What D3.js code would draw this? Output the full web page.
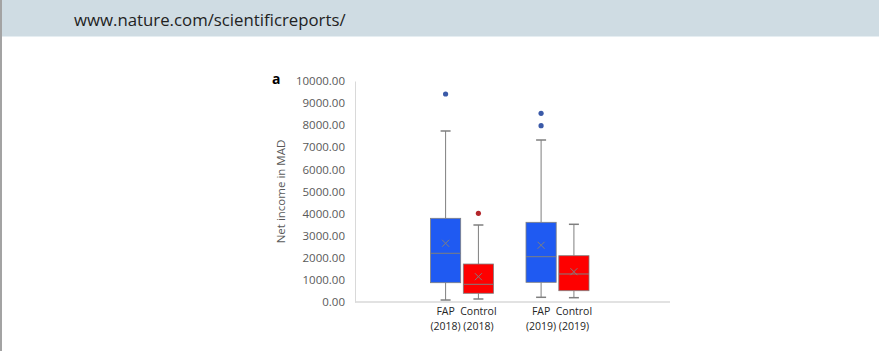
<!DOCTYPE html>
<html>
<head>
<meta charset="utf-8">
<script src="https://cdn.jsdelivr.net/npm/d3@7"></script>
<style>
  html, body { margin: 0; padding: 0; background: #fff; }
  svg { display: block; }
</style>
</head>
<body>
<div id="chart"></div>
<script>
// ---- data ----
const years = ["2018", "2019"];
const groups = ["FAP", "Control"];
const seriesYear = ["2018", "2018", "2019", "2019"];
const seriesGroup = ["FAP", "Control", "FAP", "Control"];
const whiskerMin = [90, 136, 213, 195];
const q1 = [873, 394, 891, 511];
const median = [2204, 801, 2050, 1267];
const q3 = [3787, 1719, 3606, 2095];
const whiskerMax = [7738, 3484, 7330, 3516];
const mean = [2656, 1145, 2566, 1371];
const outliers = [[9412], [4014], [8538, 7977], []];
const yTicks = [0, 1000, 2000, 3000, 4000, 5000, 6000, 7000, 8000, 9000, 10000];

const boxes = seriesYear.map((yr, i) => ({
  year: yr, group: seriesGroup[i],
  min: whiskerMin[i], q1: q1[i], med: median[i], q3: q3[i],
  max: whiskerMax[i], mean: mean[i], out: outliers[i]
}));

const fill = { FAP: "#1f5af2", Control: "#fe0000" };
const outFill = { FAP: "#3b5aa8", Control: "#b3262b" };

const W = 879, H = 351;
const svg = d3.select("#chart").append("svg")
  .attr("width", W).attr("height", H);

// header band
svg.append("rect").attr("x", 0).attr("y", 0).attr("width", W).attr("height", 36)
  .attr("fill", "#cfdce3");
svg.append("line").attr("x1", 0).attr("x2", W).attr("y1", 36.5).attr("y2", 36.5)
  .attr("stroke", "#e6eef2");
svg.append("text").attr("x", 74).attr("y", 26)
  .style("font-family", "'Open Sans', sans-serif").style("font-size", "16.8px")
  .attr("fill", "#222").text("www.nature.com/scientificreports/");
svg.append("rect").attr("x", 0).attr("y", 0).attr("width", 2).attr("height", H)
  .attr("fill", "#a3a3a3");

// plot area
const plot = { left: 355, right: 670, top: 81, bottom: 302 };

const y = d3.scaleLinear().domain([0, 10000]).range([plot.bottom, plot.top]);
const xYear = d3.scaleBand().domain(years).range([414.5, 605.5]);
const xGroup = d3.scaleBand().domain(groups).range([16, 79]).paddingInner(0.08);
const bx = d => xYear(d.year) + xGroup(d.group);
const bw = xGroup.bandwidth();
const cx = d => bx(d) + bw / 2;

// y axis
const yAxis = svg.append("g").attr("transform", `translate(${plot.left},0)`)
  .call(d3.axisLeft(y).tickValues(yTicks).tickFormat(d3.format(".2f")).tickSize(0).tickPadding(10));
yAxis.select(".domain").attr("stroke", "#d9d9d9");
yAxis.selectAll("text").attr("fill", "#595959")
  .style("font-family", "'Open Sans', sans-serif").style("font-size", "11.5px");

// x axis line
svg.append("line").attr("x1", plot.left).attr("x2", plot.right)
  .attr("y1", y(0)).attr("y2", y(0)).attr("stroke", "#d9d9d9").attr("stroke-width", 1.5);

// y label
svg.append("text")
  .attr("transform", `translate(285,${(plot.top + plot.bottom) / 2}) rotate(-90)`)
  .attr("text-anchor", "middle").attr("fill", "#595959")
  .style("font-family", "'Open Sans', sans-serif").style("font-size", "11.5px")
  .text("Net income in MAD");

// panel letter
svg.append("text").attr("x", 272).attr("y", 84)
  .style("font-family", "'Open Sans', sans-serif").style("font-size", "14px")
  .style("font-weight", "bold").attr("fill", "#000").text("a");

const stroke = "#7f7f7f";
const g = svg.selectAll(".box").data(boxes).join("g").attr("class", "box");

// whiskers
g.append("line").attr("x1", cx).attr("x2", cx)
  .attr("y1", d => y(d.max)).attr("y2", d => y(d.q3)).attr("stroke", stroke);
g.append("line").attr("x1", cx).attr("x2", cx)
  .attr("y1", d => y(d.q1)).attr("y2", d => y(d.min)).attr("stroke", stroke);
g.append("line").attr("x1", d => cx(d) - 5).attr("x2", d => cx(d) + 5)
  .attr("y1", d => y(d.max)).attr("y2", d => y(d.max)).attr("stroke", stroke).attr("stroke-width", 1.5);
g.append("line").attr("x1", d => cx(d) - 5).attr("x2", d => cx(d) + 5)
  .attr("y1", d => y(d.min)).attr("y2", d => y(d.min)).attr("stroke", stroke).attr("stroke-width", 1.5);

// box
g.append("rect").attr("x", bx).attr("width", bw)
  .attr("y", d => y(d.q3)).attr("height", d => y(d.q1) - y(d.q3))
  .attr("fill", d => fill[d.group]).attr("stroke", stroke).attr("stroke-width", 0.8);

// median
g.append("line").attr("x1", bx).attr("x2", d => bx(d) + bw)
  .attr("y1", d => y(d.med)).attr("y2", d => y(d.med)).attr("stroke", stroke).attr("stroke-width", 1);

// mean marker (x)
g.append("path")
  .attr("transform", d => `translate(${cx(d)},${y(d.mean)})`)
  .attr("d", "M-3.5,-3.5L3.5,3.5M-3.5,3.5L3.5,-3.5")
  .attr("stroke", stroke).attr("stroke-width", 1).attr("fill", "none");

// outliers
g.selectAll("circle").data(d => d.out.map(v => ({ v, d }))).join("circle")
  .attr("cx", o => cx(o.d)).attr("cy", o => y(o.v)).attr("r", 2.6)
  .attr("fill", o => outFill[o.d.group]);

// category labels
const lab = g.append("text").attr("text-anchor", "middle").attr("fill", "#262626")
  .style("font-family", "'Open Sans', sans-serif").style("font-size", "10.5px");
lab.append("tspan").attr("x", cx).attr("y", 315).text(d => d.group);
lab.append("tspan").attr("x", cx).attr("y", 330).text(d => `(${d.year})`);
</script>
</body>
</html>
